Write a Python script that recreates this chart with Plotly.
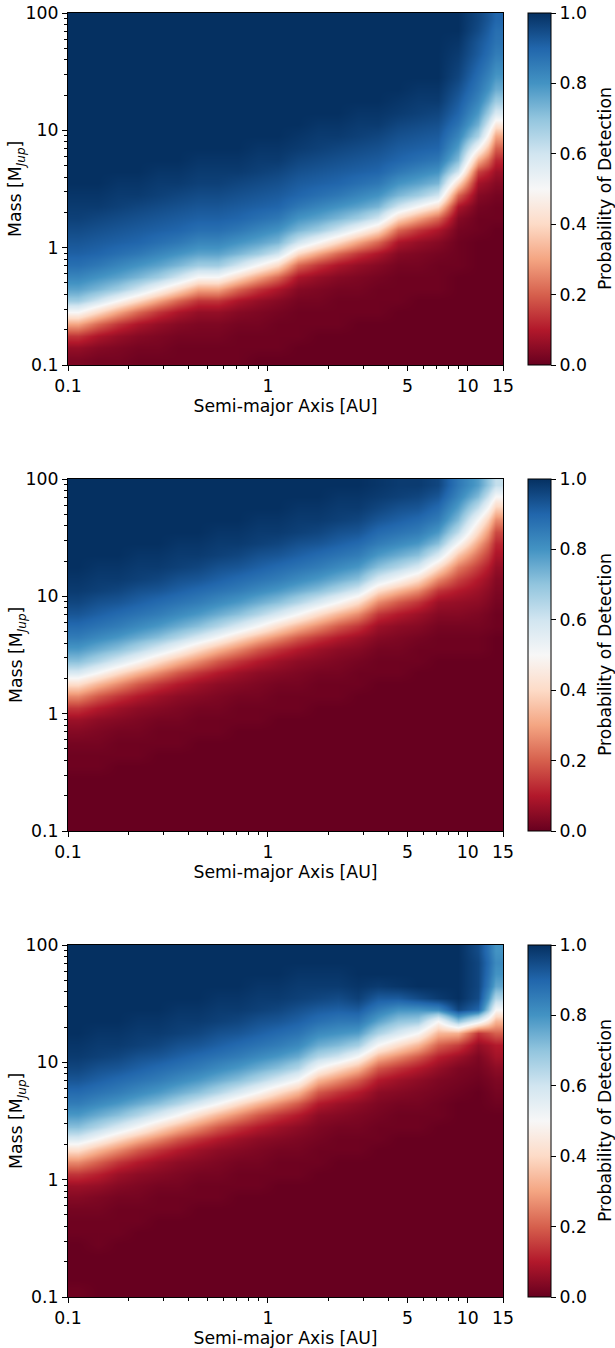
import plotly.graph_objects as go

# cell edges (AU, Jupiter masses)
A_EDGES = [0.1, 0.126, 0.158, 0.2, 0.251, 0.316, 0.398, 0.501, 0.631, 0.794, 1.0, 1.259, 1.585, 2.0, 2.512, 3.162,
           3.981, 5.012, 6.31, 7.943, 10.0, 12.59, 15.0]
M_EDGES = [0.1, 0.126, 0.158, 0.2, 0.251, 0.316, 0.398, 0.501, 0.631, 0.794, 1.0, 1.259, 1.585, 2.0, 2.512, 3.162,
           3.981, 5.012, 6.31, 7.943, 10.0, 12.59, 15.85, 19.95, 25.12, 31.62, 39.81, 50.12, 63.1, 79.43, 100.0]

# detection probability in percent: one line per semi-major-axis column, low mass upward;
# cells above the end of a line read as fully detected (100)
PROB_TOP = [
 [3,6,14,30,50,68,77,83,88,91,93,95,97,98,99],
 [2,4,9,21,40,60,73,80,86,90,92,94,96,98,99],
 [2,3,6,14,30,50,68,77,83,88,91,93,95,97,98,99],
 [1,2,4,9,21,40,60,73,80,86,90,92,94,96,98,99],
 [1,2,3,6,14,30,50,68,77,83,88,91,93,95,97,98,99],
 [1,1,2,4,9,21,40,60,73,80,86,90,92,94,96,98,99],
 [1,1,2,3,6,14,30,50,68,77,83,88,91,93,95,97,98,99],
 [1,1,2,3,6,14,30,50,68,77,83,88,91,93,95,97,98,99],
 [1,1,1,2,4,9,21,40,60,73,80,86,90,92,94,96,98,99],
 [0,1,1,2,3,6,14,30,50,68,77,83,88,91,93,95,97,98,99],
 [0,1,1,1,2,4,9,21,40,60,73,80,86,90,92,94,96,98,99],
 [0,0,1,1,1,2,4,9,21,40,60,73,80,86,90,92,94,96,98,99],
 [0,0,0,1,1,2,3,6,14,30,50,68,77,83,88,91,93,95,97,98,99],
 [0,0,0,1,1,1,2,4,9,21,40,60,73,80,86,90,92,94,96,98,99],
 [0,0,0,0,1,1,2,3,6,14,30,50,68,77,83,88,91,93,95,97,98,99],
 [0,0,0,0,1,1,1,2,4,9,21,40,60,73,80,86,90,92,94,96,98,99],
 [0,0,0,0,0,1,1,1,2,4,9,21,40,60,73,80,86,90,92,94,96,98,99],
 [0,0,0,0,0,0,1,1,2,3,6,14,30,50,68,77,83,88,91,93,95,97,98,99],
 [0,0,0,0,0,0,1,1,1,2,4,9,21,40,60,73,80,86,90,92,94,96,98,99],
 [0,0,0,0,0,0,0,0,1,1,1,2,4,9,21,40,60,72,78,83,87,90,92,94,96,97,98,99],
 [0,0,0,0,0,0,0,0,0,0,0,1,1,2,4,8,16,32,50,66,74,79,83,86,88,90,92,93,95,96],
 [0,0,0,0,0,0,0,0,0,0,0,0,1,1,2,4,7,12,20,30,44,58,68,75,79,82,85,87,88,90],
]
PROB_MIDDLE = [
 [0,0,0,0,0,1,1,2,4,7,14,26,41,58,71,79,85,89,93,96,98,99],
 [0,0,0,0,0,1,1,2,3,5,10,19,33,50,65,75,82,87,91,94,97,98,99],
 [0,0,0,0,0,0,1,1,2,4,7,14,26,41,58,71,79,85,89,93,96,98,99],
 [0,0,0,0,0,0,1,1,2,3,5,10,19,33,50,65,75,82,87,91,94,97,98,99],
 [0,0,0,0,0,0,0,1,1,2,4,7,14,26,41,58,71,79,85,89,93,96,98,99],
 [0,0,0,0,0,0,0,1,1,2,3,5,10,19,33,50,65,75,82,87,91,94,97,98,99],
 [0,0,0,0,0,0,0,0,1,1,2,4,7,14,26,41,58,71,79,85,89,93,96,98,99],
 [0,0,0,0,0,0,0,0,1,1,2,3,5,10,19,33,50,65,75,82,87,91,94,97,98,99],
 [0,0,0,0,0,0,0,0,0,1,1,2,4,7,14,26,41,58,71,79,85,89,93,96,98,99],
 [0,0,0,0,0,0,0,0,0,1,1,2,3,5,10,19,33,50,65,75,82,87,91,94,97,98,99],
 [0,0,0,0,0,0,0,0,0,0,1,1,2,4,7,14,26,41,58,71,79,85,89,93,96,98,99],
 [0,0,0,0,0,0,0,0,0,0,1,1,2,3,5,10,19,33,50,65,75,82,87,91,94,97,98,99],
 [0,0,0,0,0,0,0,0,0,0,0,1,1,2,4,7,14,26,41,58,71,79,85,89,93,96,98,99],
 [0,0,0,0,0,0,0,0,0,0,0,1,1,2,3,5,10,19,33,50,65,75,82,87,91,94,97,98,99],
 [0,0,0,0,0,0,0,0,0,0,0,0,1,1,2,4,7,14,26,41,58,71,79,85,89,93,96,98,99],
 [0,0,0,0,0,0,0,0,0,0,0,0,0,1,1,2,4,7,14,26,41,58,71,79,85,89,93,96,98,99],
 [0,0,0,0,0,0,0,0,0,0,0,0,0,1,1,2,3,5,10,19,33,50,65,75,82,87,91,94,97,98],
 [0,0,0,0,0,0,0,0,0,0,0,0,0,0,1,1,2,4,7,14,26,41,58,71,79,85,89,93,96,98],
 [0,0,0,0,0,0,0,0,0,0,0,0,0,0,0,1,1,2,4,7,14,26,41,58,71,79,85,89,93,96],
 [0,0,0,0,0,0,0,0,0,0,0,0,0,0,0,1,1,2,4,6,10,16,24,36,50,63,72,78,83,86],
 [0,0,0,0,0,0,0,0,0,0,0,0,0,0,0,1,1,2,3,5,7,10,15,22,30,40,50,62,72,78],
 [0,0,0,0,0,0,0,0,0,0,0,0,0,0,0,0,0,1,1,2,3,4,6,9,12,17,26,38,50,62],
]
PROB_BOTTOM = [
 [1,0,0,0,0,1,1,2,4,7,14,26,41,58,71,79,85,89,93,96,98,99],
 [0,0,0,0,1,1,1,2,3,6,11,20,33,50,65,75,82,87,91,94,97,98,99],
 [0,0,0,0,0,1,1,1,2,4,7,14,26,41,58,71,79,85,89,93,96,98,99],
 [0,0,0,0,0,0,1,1,2,3,5,10,19,33,50,65,75,82,87,91,94,97,98,99],
 [0,0,0,0,0,0,0,1,1,2,4,7,14,26,41,58,71,79,85,89,93,96,98,99],
 [0,0,0,0,0,0,0,1,1,2,3,5,10,19,33,50,65,75,82,87,91,94,97,98,99],
 [0,0,0,0,0,0,0,0,1,1,2,4,7,14,26,41,58,71,79,85,89,93,96,98,99],
 [0,0,0,0,0,0,0,0,1,1,2,3,5,10,19,33,50,65,75,82,87,91,94,97,98,99],
 [0,0,0,0,0,0,0,0,0,1,1,2,4,7,14,26,41,58,71,79,85,89,93,96,98,99],
 [0,0,0,0,0,0,0,0,0,1,1,2,3,5,10,19,33,50,65,75,82,87,91,94,97,98,99],
 [0,0,0,0,0,0,0,0,0,0,1,1,2,4,7,14,26,41,58,71,79,85,89,93,96,98,99],
 [0,0,0,0,0,0,0,0,0,0,1,1,2,3,5,10,19,33,50,65,75,82,87,91,94,97,98,99],
 [0,0,0,0,0,0,0,0,0,0,0,1,1,2,3,5,10,19,33,50,65,75,82,88,92,96,98,99],
 [0,0,0,0,0,0,0,0,0,0,0,0,1,1,2,4,7,14,26,41,60,72,80,86,91,95,98,99],
 [0,0,0,0,0,0,0,0,0,0,0,0,1,1,2,3,5,10,19,33,50,67,78,86,92,97,99],
 [0,0,0,0,0,0,0,0,0,0,0,0,0,1,1,2,3,5,10,19,33,50,66,77,85,92,98],
 [0,0,0,0,0,0,0,0,0,0,0,0,0,0,1,1,2,4,7,14,26,41,58,70,80,92,99],
 [0,0,0,0,0,0,0,0,0,0,0,0,0,0,1,1,2,3,5,10,19,33,50,68,80,95],
 [0,0,0,0,0,0,0,0,0,0,0,0,0,0,0,1,1,2,3,6,11,20,33,50,82,98],
 [0,0,0,0,0,0,0,0,0,0,0,0,0,0,0,0,0,1,2,3,7,15,32,70,96],
 [0,0,0,0,0,0,0,0,0,0,0,0,0,0,0,0,0,0,1,2,3,6,14,55,90,95,96,96,96,95],
 [0,0,0,0,0,0,0,0,0,0,0,0,0,0,0,0,1,2,3,5,8,10,20,33,50,65,76,80,82,80],
]

X_TICKS = [0.1, 1, 5, 10, 15]
X_LABELS = ["0.1", "1", "5", "10", "15"]
X_MINOR = [0.2, 0.3, 0.4, 0.5, 0.6, 0.7, 0.8, 0.9, 2, 3, 4, 6, 7, 8, 9]
Y_TICKS = [0.1, 1, 10, 100]
Y_LABELS = ["0.1", "1", "10", "100"]
Y_MINOR = [0.2, 0.3, 0.4, 0.5, 0.6, 0.7, 0.8, 0.9, 2, 3, 4, 5, 6, 7, 8, 9, 20, 30, 40, 50, 60, 70, 80, 90]
X_TITLE = "Semi-major Axis [AU]"
Y_TITLE = "Mass [M<sub><i>Jup</i></sub>]"
BAR_TITLE = "Probability of Detection"

RDBU = [[0.0, "#67001f"], [0.1, "#b2182b"], [0.2, "#d6604d"], [0.3, "#f4a582"], [0.4, "#fddbc7"], [0.5, "#f7f7f7"],
        [0.6, "#d1e5f0"], [0.7, "#92c5de"], [0.8, "#4393c3"], [0.9, "#2166ac"], [1.0, "#053061"]]

W, H = 615, 1348
FONT = "DejaVu Sans"
FS = 17.3
LEFT, RIGHT = 68, 503
TOPS = [13, 479, 945]
PANEL_H = 352
BAR_LEFT, BAR_W = 528, 23

fig = go.Figure()
layout = dict(width=W, height=H, margin=dict(l=0, r=0, t=0, b=0), paper_bgcolor="white", plot_bgcolor="white",
              font=dict(family=FONT, size=FS, color="black"), showlegend=False)
notes = []

for i, (prob, top) in enumerate(zip([PROB_TOP, PROB_MIDDLE, PROB_BOTTOM], TOPS)):
    n = "" if i == 0 else str(i + 1)
    y_hi = 1 - top / H
    y_lo = 1 - (top + PANEL_H) / H
    y_mid = (y_hi + y_lo) / 2
    fig.add_trace(go.Heatmap(
        x=A_EDGES, y=M_EDGES,
        z=[[v / 100 for v in (col + [100] * 30)[:30]] for col in prob],
        transpose=True, zmin=0, zmax=1, colorscale=RDBU, zsmooth="best",
        xaxis="x" + n, yaxis="y" + n,
        colorbar=dict(
            x=BAR_LEFT / W, xanchor="left", xpad=0, ypad=0, thickness=BAR_W, thicknessmode="pixels",
            y=y_mid, yanchor="middle", len=PANEL_H / H, lenmode="fraction",
            tickmode="array", tickvals=[0, 0.2, 0.4, 0.6, 0.8, 1.0], ticktext=["0.0", "0.2", "0.4", "0.6", "0.8", "1.0"],
            ticks="outside", ticklen=5, tickwidth=1, tickcolor="black",
            outlinewidth=1, outlinecolor="black",
            tickfont=dict(family=FONT, size=FS),
        ),
    ))
    layout["xaxis" + n] = dict(
        type="log", domain=[LEFT / W, RIGHT / W], range=[-1, 1.17609], anchor="y" + n,
        tickmode="array", tickvals=X_TICKS, ticktext=X_LABELS, ticks="outside", ticklen=5, tickwidth=1,
        tickcolor="black", showgrid=False, zeroline=False, showline=True, linecolor="black", linewidth=1, mirror=True,
        minor=dict(tickmode="array", tickvals=X_MINOR, ticks="outside", ticklen=3, tickwidth=1, tickcolor="black",
                   showgrid=False),
        title=dict(text=X_TITLE, standoff=4, font=dict(family=FONT, size=FS)),
        automargin=False,
    )
    layout["yaxis" + n] = dict(
        type="log", domain=[y_lo, y_hi], range=[-1, 2], anchor="x" + n,
        tickmode="array", tickvals=Y_TICKS, ticktext=Y_LABELS, ticks="outside", ticklen=5, tickwidth=1,
        tickcolor="black", showgrid=False, zeroline=False, showline=True, linecolor="black", linewidth=1, mirror=True,
        minor=dict(tickmode="array", tickvals=Y_MINOR, ticks="outside", ticklen=3, tickwidth=1, tickcolor="black",
                   showgrid=False),
        automargin=False,
    )
    notes.append(dict(text=Y_TITLE, textangle=-90, xref="paper", yref="paper", x=17 / W, y=y_mid,
                      xanchor="center", yanchor="middle", showarrow=False, font=dict(family=FONT, size=FS)))
    notes.append(dict(text=BAR_TITLE, textangle=-90, xref="paper", yref="paper", x=605 / W, y=y_mid,
                      xanchor="center", yanchor="middle", showarrow=False, font=dict(family=FONT, size=FS)))

layout["annotations"] = notes
fig.update_layout(**layout)
fig.write_html("out.html", config={"displayModeBar": False}, post_script="document.body.style.margin='0';")
